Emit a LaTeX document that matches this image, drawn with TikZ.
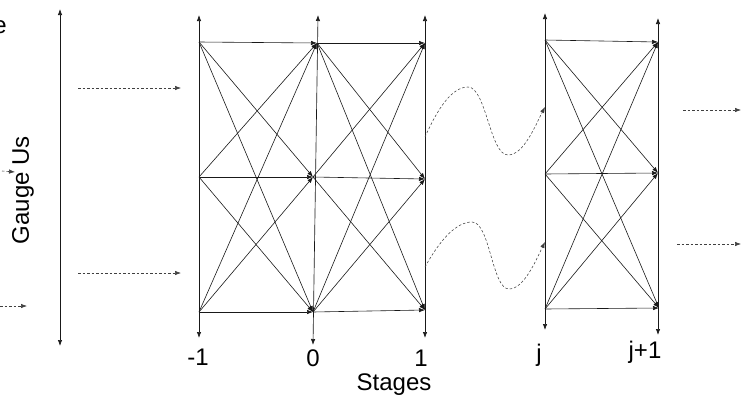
\documentclass[tikz,border=0pt]{standalone}
\usepackage{fontspec}
\setmainfont{Liberation Sans}
\usetikzlibrary{arrows.meta}
\begin{document}
\begin{tikzpicture}[x=1pt,y=-1pt,
  tip/.tip={Latex[length=6pt,width=4.4pt]},
  edge/.style={-tip, line width=0.6pt, black!90},
  axis/.style={tip-tip, line width=0.65pt, black!90},
  feed/.style={dash pattern=on 2.5pt off 2pt, -tip, line width=0.55pt, black!75},
  lab/.style={font=\fontsize{24}{28}\selectfont, inner sep=0pt}]
\useasboundingbox (0,0) rectangle (751,399);
% stray text at the left edge
\node[lab, anchor=east] (e) at (7,27) {e};
\node[lab, rotate=90] (gauge) at (23,190) {Gauge Us};
% big left axis
\coordinate (gt) at (60,9);
\coordinate (gb) at (60,346);
\draw[axis] (gt) -- (gb);
% small dashed inputs at left
\coordinate (s1a) at (2,171); \coordinate (s1b) at (15,172);
\draw[feed] (s1a) -- (s1b);
\coordinate (s2a) at (0,306); \coordinate (s2b) at (27,306);
\draw[feed] (s2a) -- (s2b);
\coordinate (f1a) at (78,88); \coordinate (f1b) at (181,88);
\draw[feed] (f1a) -- (f1b);
\coordinate (f2a) at (78,273); \coordinate (f2b) at (181,273);
\draw[feed] (f2a) -- (f2b);
% column axes
\coordinate (at) at (199,15); \coordinate (ab) at (199,338);
\coordinate (bt) at (318,15); \coordinate (bb) at (313,345);
\coordinate (ct) at (425,15); \coordinate (cb) at (425,338);
\coordinate (dt) at (545,13); \coordinate (db) at (545,330);
\coordinate (et) at (658,18); \coordinate (eb) at (658,335);
\foreach \c in {a,b,c,d,e} \draw[axis] (\c t) -- (\c b);
% stage nodes
\coordinate (a1) at (199,42);  \coordinate (a2) at (199,177); \coordinate (a3) at (199,312);
\coordinate (b1) at (317,43);  \coordinate (b2) at (313,177); \coordinate (b3) at (313,312);
\coordinate (c1) at (425,43);  \coordinate (c2) at (425,179); \coordinate (c3) at (425,310);
\coordinate (d1) at (545,40);  \coordinate (d2) at (545,174); \coordinate (d3) at (545,309);
\coordinate (e1) at (658,42);  \coordinate (e2) at (658,173); \coordinate (e3) at (659,308);
\foreach \s in {1,2,3}{
  \foreach \t in {1,2,3}{
    \draw[edge] (a\s) -- (b\t);
    \draw[edge] (b\s) -- (c\t);
    \draw[edge] (d\s) -- (e\t);
  }
}
% wavy dashed links from stage 1 to stage j
\coordinate (w1a) at (425,137); \coordinate (w1b) at (545,107);
\draw[feed] (w1a) .. controls (438,108) and (452,87) .. (468,87)
  .. controls (486,87) and (490,155) .. (508,155)
  .. controls (524,155) and (536,124) .. (w1b);
\coordinate (w2a) at (425,267); \coordinate (w2b) at (545,242);
\draw[feed] (w2a) .. controls (440,240) and (456,222) .. (472,222)
  .. controls (490,222) and (492,289) .. (509,289)
  .. controls (524,289) and (536,260) .. (w2b);
% right dashed outputs
\coordinate (o1a) at (683,110); \coordinate (o1b) at (741,110);
\draw[feed] (o1a) -- (o1b);
\coordinate (o2a) at (677,244); \coordinate (o2b) at (741,244);
\draw[feed] (o2a) -- (o2b);
% labels
\node[lab] (lm1) at (198,357) {-1};
\node[lab] (l0) at (313,358) {0};
\node[lab] (l1) at (421,358) {1};
\node[lab] (lj) at (539,355) {j};
\node[lab] (ljp) at (645,352) {j+1};
\node[lab] (stages) at (394,385) {Stages};
\end{tikzpicture}
\end{document}
